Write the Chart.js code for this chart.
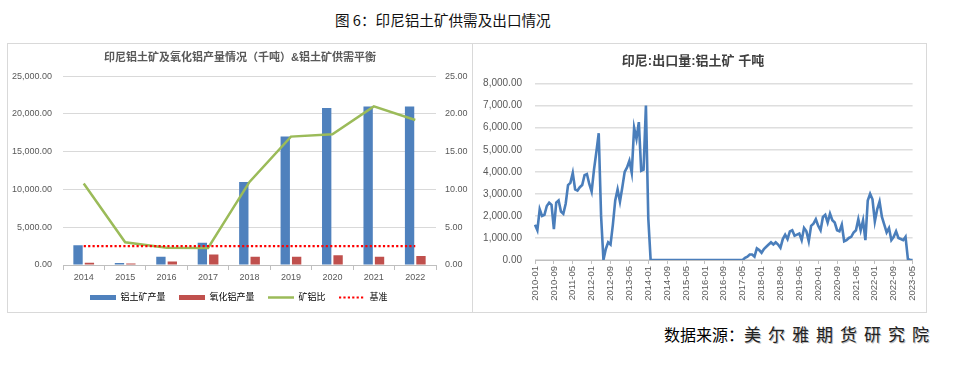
<!DOCTYPE html>
<html>
<head>
<meta charset="utf-8">
<script src="https://cdn.jsdelivr.net/npm/chart.js@4.4.1/dist/chart.umd.min.js"></script>
<style>
  body { margin: 0; width: 963px; height: 379px; background: #fff; position: relative; overflow: hidden; font-family: "Noto Sans CJK SC", sans-serif; }
  #mainTitle { position: absolute; left: 335px; top: 10px; font-size: 14.6px; line-height: 19px; color: #111; white-space: nowrap; }
  .panel { position: absolute; top: 43px; height: 270px; border: 1px solid #d9d9d9; box-sizing: border-box; }
  #p1 { left: 7px; width: 466px; }
  #p2 { left: 472px; width: 455px; }
  canvas { position: absolute; left: 0; top: 0; }
  #source { position: absolute; left: 664px; top: 324px; font-size: 16px; line-height: 20px; color: #000; white-space: nowrap; }
  #source .wm { letter-spacing: 7px; font-size: 17px; color: #222; text-shadow: 1px 1px 0 #bbb; }
</style>
</head>
<body>
<div id="mainTitle">图 6：印尼铝土矿供需及出口情况</div>
<div class="panel" id="p1"><canvas id="chart1" width="464" height="268"></canvas></div>
<div class="panel" id="p2"><canvas id="chart2" width="453" height="268"></canvas></div>
<div id="source">数据来源：<span class="wm">美尔雅期货研究院</span></div>
<script>
// 左图：产量 (千吨) 和 矿铝比
const years = ['2014', '2015', '2016', '2017', '2018', '2019', '2020', '2021', '2022'];
const bauxiteOutput = [2600, 250, 1100, 2950, 11000, 17000, 20800, 21000, 21000];
const aluminaOutput = [300, 200, 450, 1400, 1100, 1100, 1300, 1100, 1200];
const oreRatio = [10.8, 3.0, 2.3, 2.25, 11.0, 17.0, 17.3, 21.0, 19.2];
const benchmark = [2.5, 2.5, 2.5, 2.5, 2.5, 2.5, 2.5, 2.5, 2.5];

// 右图：印尼铝土矿月度出口量 (千吨)，2010-01 ~ 2023-05
const exportVol = [
  1600, 1350, 2300, 2000, 2050, 2450, 2600, 2500, 1400, 2600, 2700, 2200,
  2100, 2550, 3400, 3500, 3950, 3200, 3150, 3300, 3400, 3850, 3900, 3450,
  3100, 4100, 4900, 5750, 2000, 0, 500, 800, 700, 1600, 2700, 3200,
  2650, 3300, 4000, 4200, 4500, 3950, 6000, 5500, 6250, 4050, 4100, 7000,
  1900, 0, 0, 0, 0, 0, 0, 0, 0, 0, 0, 0,
  0, 0, 0, 0, 0, 0, 0, 0, 0, 0, 0, 0,
  0, 0, 0, 0, 0, 0, 0, 0, 0, 0, 0, 0,
  0, 0, 0, 0, 0, 100, 150, 250, 250, 150, 530, 450,
  330, 500, 600, 700, 800, 700, 800, 700, 550, 950, 1150, 950,
  1300, 1350, 1100, 1150, 1200, 900, 1450, 1300, 850, 1550, 1650, 1850,
  1550, 1350, 1950, 2050, 1700, 2100, 1800, 1700, 1350, 1300, 1600, 850,
  900, 1000, 1050, 1250, 1350, 1850, 1350, 1800, 900, 2700, 3000, 2750,
  1750, 2300, 2650, 1950, 1600, 1250, 1450, 900, 1050, 1300, 1000, 950,
  900, 1050, 50, 0, 0
];
const months = [];
for (let y = 2010; y <= 2023; y++) {
  for (let m = 1; m <= 12; m++) {
    if (y === 2023 && m > 5) break;
    months.push(y + '-' + String(m).padStart(2, '0'));
  }
}

const FONT = "'Liberation Sans', 'Noto Sans CJK SC', sans-serif";
const GREY = '#595959';
const fmt = v => Number(v).toLocaleString('en-US', { minimumFractionDigits: 2, maximumFractionDigits: 2 });

Chart.defaults.font.family = FONT;
Chart.defaults.color = GREY;

const chart1 = document.getElementById('chart1');

new Chart(chart1, {
  type: 'bar',
  data: {
    labels: years,
    datasets: [
      { label: '铝土矿产量', data: bauxiteOutput, backgroundColor: '#4f81bd', yAxisID: 'y', order: 3,
        categoryPercentage: 0.55, barPercentage: 0.82 },
      { label: '氧化铝产量', data: aluminaOutput, backgroundColor: '#c0504d', yAxisID: 'y', order: 3,
        categoryPercentage: 0.55, barPercentage: 0.82 },
      { type: 'line', label: '矿铝比', data: oreRatio, borderColor: '#9bbb59', backgroundColor: '#9bbb59',
        borderWidth: 2.5, pointRadius: 0, tension: 0, yAxisID: 'y1', order: 1 },
      { type: 'line', label: '基准', data: benchmark, borderColor: '#ff0000', backgroundColor: '#ff0000',
        borderWidth: 2.2, borderDash: [2.2, 2.2], pointRadius: 0, yAxisID: 'y1', order: 0 }
    ]
  },
  options: {
    responsive: false,
    animation: false,
    plugins: {
      title: {
        display: true,
        text: '印尼铝土矿及氧化铝产量情况（千吨）&铝土矿供需平衡',
        color: GREY,
        font: { size: 11, weight: 'bold' },
        padding: { top: 7, bottom: 12 }
      },
      legend: {
        position: 'bottom',
        labels: {
          usePointStyle: true, pointStyleWidth: 26, boxWidth: 26, boxHeight: 5, padding: 11,
          color: GREY, font: { size: 9 },
          // 图例文字后面留一点空
          generateLabels: chart => chart.data.datasets.map((ds, i) => ({
            text: ds.label + ' ',
            fillStyle: ds.backgroundColor,
            strokeStyle: ds.type === 'line' ? ds.borderColor : ds.backgroundColor,
            lineWidth: ds.type === 'line' ? ds.borderWidth : 0,
            lineDash: ds.borderDash || [],
            pointStyle: ds.type === 'line' ? 'line' : 'rect',
            datasetIndex: i,
            hidden: false
          }))
        }
      },
      tooltip: { enabled: false }
    },
    scales: {
      x: {
        grid: { drawOnChartArea: false, tickLength: 5, color: '#bfbfbf' },
        border: { color: '#bfbfbf' },
        ticks: { color: GREY, font: { size: 9, lineHeight: 1 }, padding: 3 },
        afterFit: s => { s.height = 17; }
      },
      y: {
        position: 'left', min: 0, max: 25000,
        ticks: { stepSize: 5000, callback: fmt, color: GREY, font: { size: 9 }, padding: 11 },
        grid: { color: '#d9d9d9', drawTicks: false },
        border: { display: false },
        afterFit: s => { s.width = 55; }
      },
      y1: {
        position: 'right', min: 0, max: 25,
        ticks: { stepSize: 5, callback: fmt, color: GREY, font: { size: 9 }, padding: 9 },
        grid: { drawOnChartArea: false, drawTicks: false },
        border: { display: false },
        afterFit: s => { s.width = 36; }
      }
    }
  }
});

// 右边的出口量图
const chart2 = document.getElementById('chart2');

new Chart(chart2, {
  type: 'line',
  data: {
    labels: months,
    datasets: [{
      label: '印尼:出口量:铝土矿',
      data: exportVol,
      borderColor: '#4a7ebb',
      borderWidth: 2.6,
      pointRadius: 0,
      tension: 0,
      fill: false
    }]
  },
  options: {
    responsive: false,
    animation: false,
    layout: { padding: { right: 13 } },
    plugins: {
      title: {
        display: true,
        text: '印尼:出口量:铝土矿 千吨',
        color: '#404040',
        font: { size: 13, weight: 'bold' },
        padding: { top: 10, bottom: 14 }
      },
      legend: { display: false },
      tooltip: { enabled: false }
    },
    scales: {
      x: {
        grid: {
          drawOnChartArea: false, tickLength: 4,
          color: '#bfbfbf'
        },
        border: { color: '#bfbfbf' },
        ticks: {
          autoSkip: false, maxRotation: 90, minRotation: 90, padding: 2,
          color: GREY, font: { size: 9.5 },
          callback: function (v, i) { return i % 8 === 0 ? this.getLabelForValue(v) : null; }
        },
        afterFit: s => { s.height = 52; }
      },
      y: {
        min: 0, max: 8000,
        ticks: { stepSize: 1000, callback: fmt, color: GREY, font: { size: 10 }, padding: 13 },
        grid: { color: '#dedede', lineWidth: 1.5, drawTicks: false },
        border: { display: false },
        afterFit: s => { s.width = 62; }
      }
    }
  }
});
</script>
</body>
</html>
